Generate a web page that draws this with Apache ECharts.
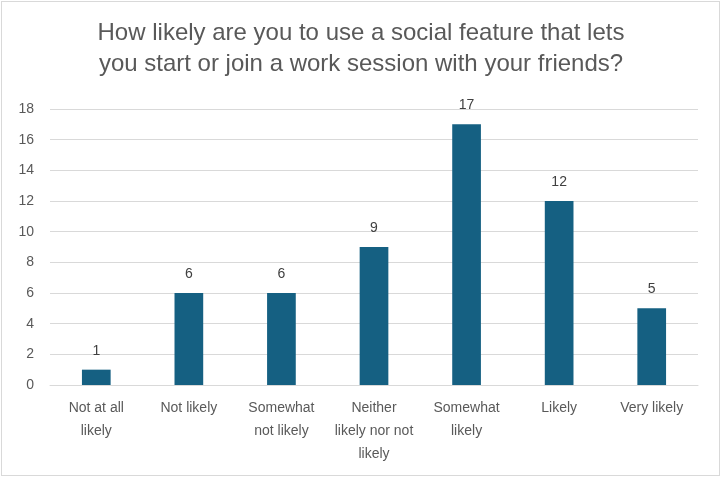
<!DOCTYPE html>
<html><head><meta charset="utf-8">
<script src="https://cdn.jsdelivr.net/npm/echarts@6/dist/echarts.min.js"></script>
<style>html,body{margin:0;padding:0;background:#fff}#c{width:722px;height:478px}#b{position:absolute;left:1px;top:1px;width:719px;height:475px;box-sizing:border-box;border:1px solid #d9d9d9;pointer-events:none}</style>
</head><body><div id="c"></div><div id="b"></div>
<script>
const categories = ["Not at all\nlikely", "Not likely", "Somewhat\nnot likely", "Neither\nlikely nor not\nlikely", "Somewhat\nlikely", "Likely", "Very likely"];
const values = [1, 6, 6, 9, 17, 12, 5];
const titleText = "How likely are you to use a social feature that lets\nyou start or join a work session with your friends?";
const FONT = 'Liberation Sans';
const chart = echarts.init(document.getElementById('c'));
chart.setOption({
  animation: false,
  title: {text: titleText, left: 'center', top: 13,
    textStyle: {fontFamily: FONT, fontSize: 24, fontWeight: 'normal', color: '#595959', lineHeight: 31}},
  grid: {left: 50, right: 24, top: 109, bottom: 93},
  xAxis: {type: 'category', data: categories,
    axisLine: {lineStyle: {color: '#d9d9d9'}}, axisTick: {show: false},
    axisLabel: {color: '#595959', fontSize: 14, lineHeight: 23, margin: 12, interval: 0, fontFamily: FONT}},
  yAxis: {type: 'value', min: 0, max: 18, interval: 2,
    axisLine: {show: false}, axisTick: {show: false},
    splitLine: {lineStyle: {color: '#d9d9d9'}},
    axisLabel: {color: '#595959', fontSize: 14, margin: 16, fontFamily: FONT}},
  series: [{type: 'bar', data: values, barWidth: '31%', itemStyle: {color: '#156082'},
    label: {show: true, position: 'top', distance: 12, color: '#404040', fontSize: 14, fontFamily: FONT}}]
});
</script></body></html>
